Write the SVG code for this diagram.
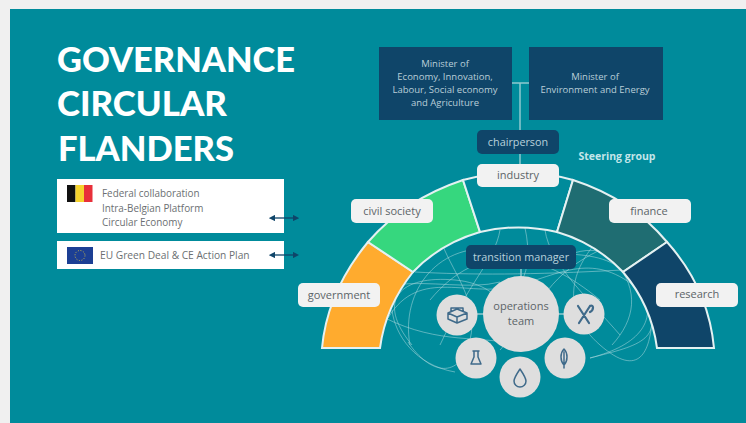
<svg xmlns="http://www.w3.org/2000/svg" width="746" height="423" viewBox="0 0 746 423">
<style>
text{font-family:"Open Sans","Liberation Sans",sans-serif;text-anchor:middle}
.title{font-family:Lato,"Liberation Sans",sans-serif;font-weight:900;font-size:34px;fill:#fff;text-anchor:start}
.box{fill:#fff}
.min{fill:#0f4569}
.mint{font-size:9.5px;fill:#b9ced8}
.lab{fill:#f2f2f2}
.labt{font-size:11px;fill:#5c6468}
.dark{fill:#0f4569}
.darkt{font-size:10.8px;fill:#b9d2dc}
.boxt{font-size:9.9px;fill:#6b6f72;text-anchor:start}
.seg{stroke:#e4f1f2;stroke-width:2;stroke-linejoin:miter}
.circ{fill:#dedede}
.ico{fill:none;stroke:#3f6a8a;stroke-width:1.5;stroke-linecap:round;stroke-linejoin:round}
.web{fill:none;stroke:#b6dde1;stroke-width:1;opacity:.5}
.conn{stroke:#8fc9d0;stroke-width:1.5;fill:none}
.arr{stroke:#0f4569;stroke-width:1.3;fill:none;marker-start:url(#ah);marker-end:url(#ah)}
</style>
<defs>
<marker id="ah" viewBox="0 0 6 6" refX="3" refY="3" markerWidth="5" markerHeight="5" orient="auto-start-reverse"><path d="M0 0L6 3L0 6z" fill="#0f4569"/></marker>
</defs>
<rect width="746" height="423" fill="#f0f0f0"/>
<rect x="10" y="9" width="736" height="414" fill="#008b9b"/>
<g id="title">
<text class="title" x="57" y="72" textLength="238" lengthAdjust="spacingAndGlyphs">GOVERNANCE</text>
<text class="title" x="57" y="116" textLength="170" lengthAdjust="spacingAndGlyphs">CIRCULAR</text>
<text class="title" x="58" y="161" textLength="176" lengthAdjust="spacingAndGlyphs">FLANDERS</text>
</g>
<g id="web">
<path class="web" d="M410 345C400 290 440 240 500 250S610 240 640 290S640 345 590 358"/>
<path class="web" d="M388 318C420 265 470 300 520 285S600 250 650 300"/>
<path class="web" d="M412 345C375 300 400 275 455 280S520 330 500 350"/>
<path class="web" d="M590 358C640 345 660 320 640 285S590 240 555 262"/>
<path class="web" d="M440 238C450 270 480 300 470 340S430 375 408 342"/>
<path class="web" d="M600 238C570 270 560 310 600 345S650 350 652 320"/>
<path class="web" d="M385 318C440 345 480 335 520 345"/>
<path class="web" d="M500 230C495 260 470 280 440 345"/>
<path class="web" d="M545 230C550 265 590 300 620 335"/>
<path class="web" d="M415 272C470 275 530 275 622 270"/>
<path class="web" d="M430 300C480 240 540 250 600 300"/>
<path class="web" d="M455 372C415 365 395 335 392 310"/>
<path class="web" d="M395 285C430 280 470 290 500 282"/>
<path class="web" d="M612 345C635 320 640 290 615 262"/>
<path class="web" d="M525 228C530 250 528 270 522 280"/>
<path class="web" d="M600 250C575 262 560 275 548 290"/>
</g>
<g id="connectors-top">
<path class="conn" d="M512 83H529M520 83V130M520 154V164M521 269V276M477 314H495M547 314H564"/>
</g>
<g id="arc">
<path class="seg" fill="#ffab2e" d="M322 348C326 305 345 270 368 242L413 272C397 292 384 318 380 348Z"/>
<path class="seg" fill="#36d77e" d="M368 242C394 212 427 192 463 180L480 232C456 239 432 252 413 272Z"/>
<path class="seg" fill="#008b9b" d="M463 180C500 170 536 170 573 180L557 232C532 226 505 226 480 232Z"/>
<path class="seg" fill="#1f6d72" d="M573 180C610 192 642 212 667 242L623 272C604 252 581 239 557 232Z"/>
<path class="seg" fill="#0f4569" d="M667 242C692 270 710 305 714 348H657C653 318 640 292 623 272Z"/>
</g>
<g id="federal">
<rect class="box" x="57" y="179" width="227" height="54"/>
<rect x="67" y="185" width="8.5" height="17" fill="#111"/><rect x="75.5" y="185" width="8.5" height="17" fill="#f6d32d"/><rect x="84" y="185" width="8.5" height="17" fill="#e8303a"/>
<text class="boxt" x="102" y="197">Federal collaboration</text>
<text class="boxt" x="102" y="212">Intra-Belgian Platform</text>
<text class="boxt" x="102" y="226">Circular Economy</text>
</g>
<g id="eu">
<rect class="box" x="57" y="241" width="227" height="28"/>
<rect x="67" y="247" width="26" height="17" fill="#1c3f94"/>
<circle cx="80" cy="255.500" r="5" fill="none" stroke="#c9b84a" stroke-width="1" stroke-dasharray="1 1.6"/>
<text class="boxt" x="100" y="259" font-size="10.200" style="font-size:10.2px">EU Green Deal &amp; CE Action Plan</text>
</g>
<g id="connectors">
<path class="arr" d="M272 218H296"/>
<path class="arr" d="M272 255H296"/>
</g>
<g id="minister1">
<rect class="min" x="379" y="47" width="133" height="73"/>
<text class="mint" x="445" y="67">Minister of</text>
<text class="mint" x="445" y="80">Economy, Innovation,</text>
<text class="mint" x="445" y="93">Labour, Social economy</text>
<text class="mint" x="445" y="106">and Agriculture</text>
</g>
<g id="minister2">
<rect class="min" x="529" y="47" width="134" height="73"/>
<text class="mint" x="595" y="80">Minister of</text>
<text class="mint" x="595" y="93">Environment and Energy</text>
</g>
<g id="chairperson">
<rect class="dark" x="477" y="130" width="82" height="24" rx="5"/>
<text class="darkt" x="518" y="146">chairperson</text>
</g>
<text x="617" y="160" font-size="10.500" font-weight="700" fill="#c4e6ea">Steering group</text>
<g id="industry"><rect class="lab" x="477" y="164" width="82" height="23" rx="5"/><text class="labt" x="518" y="179">industry</text></g>
<g id="civil"><rect class="lab" x="351" y="199" width="82" height="24" rx="5"/><text class="labt" x="392" y="215">civil society</text></g>
<g id="finance"><rect class="lab" x="609" y="199" width="82" height="24" rx="5"/><text class="labt" x="649" y="215">finance</text></g>
<g id="government"><rect class="lab" x="298" y="283" width="82" height="24" rx="5"/><text class="labt" x="339" y="299">government</text></g>
<g id="research"><rect class="lab" x="656" y="283" width="82" height="24" rx="5"/><text class="labt" x="697" y="298">research</text></g>
<g id="transition"><rect class="dark" x="466" y="245" width="110" height="24" rx="5"/><text class="darkt" x="521" y="261">transition manager</text></g>
<g id="operations"><circle class="circ" cx="521" cy="314" r="38"/><text class="labt" x="521" y="310">operations</text><text class="labt" x="521" y="325">team</text></g>
<g id="icon-box"><circle class="circ" cx="457" cy="315" r="20.500"/><path class="ico" d="M448 313L457 309L467 313V319L457 323L448 319ZM448 313L457 317L467 313M457 317V323M451 311V308H463V311"/></g>
<g id="icon-tools"><circle class="circ" cx="584" cy="314" r="20.500"/><path class="ico" style="stroke-width:2.2" d="M578 306L589 323M590 306L579 323M590 306C594 304 594 310 590 312"/></g>
<g id="icon-flask"><circle class="circ" cx="476" cy="358" r="20.500"/><path class="ico" d="M473 351H479M474 351V357L471 364H481L478 357V351"/></g>
<g id="icon-drop"><circle class="circ" cx="520" cy="377" r="20.500"/><path class="ico" d="M520 369C516 375 514 378 514 381A6 6 0 0 0 526 381C526 378 524 375 520 369Z"/></g>
<g id="icon-leaf"><circle class="circ" cx="565" cy="358" r="20.500"/><path class="ico" d="M564 349C560 353 560 361 564 365C568 361 568 353 564 349ZM564 352V368"/></g>
</svg>
